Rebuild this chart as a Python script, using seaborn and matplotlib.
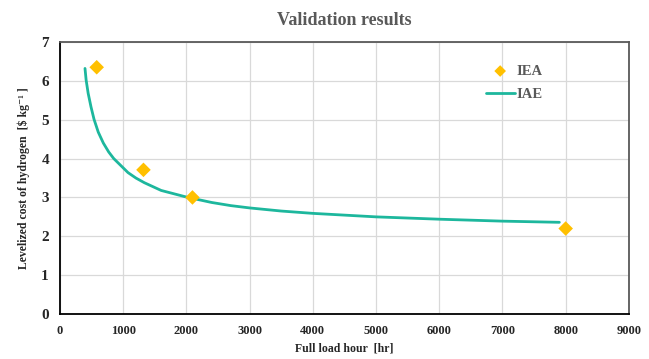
import matplotlib
matplotlib.use("Agg")
import matplotlib.pyplot as plt
import seaborn as sns
import pandas as pd

# IEA reference points
iea_hours = [580, 1320, 2095, 8000]
iea_cost = [6.35, 3.71, 3.00, 2.20]

# IAE model curve
iae_hours = [395, 413, 445, 490, 538, 605, 685, 770, 850, 1000, 1075, 1200, 1333,
             1600, 2000, 2400, 2700, 3000, 3500, 4000, 5000, 6000, 7000, 7900]
iae_cost = [6.32, 6.02, 5.68, 5.33, 5.01, 4.68, 4.40, 4.17, 4.00, 3.76, 3.64,
            3.50, 3.38, 3.18, 3.01, 2.87, 2.79, 2.73, 2.65, 2.59, 2.50, 2.44,
            2.39, 2.36]

x_ticks = [0, 1000, 2000, 3000, 4000, 5000, 6000, 7000, 8000, 9000]
y_ticks = [0, 1, 2, 3, 4, 5, 6, 7]

sns.set_style("white")
plt.rcParams['font.family'] = ['Liberation Serif', 'DejaVu Serif']

fig = plt.figure(figsize=(6.49, 3.59), dpi=100)
ax = fig.add_axes([0.0925, 0.1253, 0.8765, 0.7577])

df_line = pd.DataFrame({"hours": iae_hours, "cost": iae_cost})
df_pts = pd.DataFrame({"hours": iea_hours, "cost": iea_cost})

sns.lineplot(data=df_line, x="hours", y="cost", ax=ax, color="#1db79d",
             linewidth=2.0, label="IAE", zorder=3)
sns.scatterplot(data=df_pts, x="hours", y="cost", ax=ax, color="#FFC000",
                marker="D", s=55, edgecolor="none", label="IEA", zorder=4)

ax.set_xlim(0, 9000)
ax.set_ylim(0, 7)
ax.set_xticks(x_ticks)
ax.set_yticks(y_ticks)
ax.grid(True, color="#d9d9d9", linewidth=0.9)
ax.set_axisbelow(True)

for s in ["left", "bottom"]:
    ax.spines[s].set_color("black")
    ax.spines[s].set_linewidth(1.3)
for s in ["top", "right"]:
    ax.spines[s].set_color("#595959")
    ax.spines[s].set_linewidth(1.3)

ax.tick_params(axis="both", length=0, pad=8)
for lab in ax.get_xticklabels():
    lab.set_fontweight("bold")
    lab.set_fontsize(9)
for lab in ax.get_yticklabels():
    lab.set_fontweight("bold")
    lab.set_fontsize(11)

ax.set_xlabel("Full load hour  [hr]", fontsize=8.5, fontweight="bold", labelpad=4)
ax.set_ylabel("Levelized cost of hydrogen  [$ kg\u207b\u00b9 ]", fontsize=8.5,
              fontweight="bold", labelpad=8)
ax.set_title("Validation results", fontsize=13, fontweight="bold",
             color="#595959", pad=12)

handles, labels = ax.get_legend_handles_labels()
order = [labels.index("IEA"), labels.index("IAE")]
leg = ax.legend([handles[i] for i in order], [labels[i] for i in order],
                loc="upper left", bbox_to_anchor=(0.725, 0.965), frameon=False,
                prop={"weight": "bold", "size": 10.5}, handlelength=2.0,
                handletextpad=0.1, labelspacing=0.7, markerscale=0.8)
for t in leg.get_texts():
    t.set_color("#595959")

fig.savefig("out.png", dpi=100)
